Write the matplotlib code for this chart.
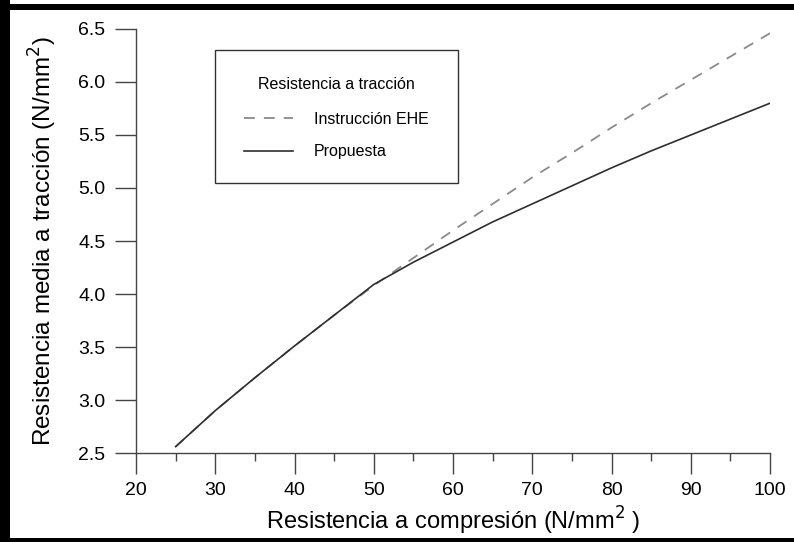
import matplotlib
matplotlib.use("Agg")
import matplotlib.pyplot as plt
from matplotlib.patches import Rectangle

plt.rcParams['font.family'] = ['Liberation Sans', 'DejaVu Sans']

# values
fck = [25, 30, 35, 40, 45, 50, 55, 60, 65, 70, 75, 80, 85, 90, 95, 100]
ehe = [2.56, 2.90, 3.21, 3.51, 3.80, 4.08, 4.34, 4.60, 4.85, 5.10, 5.33, 5.57, 5.80, 6.02, 6.24, 6.46]
propuesta = [2.56, 2.90, 3.21, 3.51, 3.80, 4.09, 4.30, 4.49, 4.68, 4.85, 5.02, 5.19, 5.35, 5.50, 5.65, 5.80]

x_ticks = [20, 30, 40, 50, 60, 70, 80, 90, 100]
y_ticks = [2.5, 3.0, 3.5, 4.0, 4.5, 5.0, 5.5, 6.0, 6.5]

fig = plt.figure(figsize=(7.94, 5.42), dpi=100)
ax = fig.add_axes([0.1713, 0.1642, 0.7985, 0.7823])

ax.plot(fck, ehe, color='#8a8a8a', linestyle=(0, (6, 5)), linewidth=1.3, label='Instrucción EHE')
ax.plot(fck, propuesta, color='#2e2e2e', linewidth=1.2, label='Propuesta')

ax.set_xlim(20, 100)
ax.set_ylim(2.5, 6.5)
ax.set_xticks(x_ticks)
ax.set_xticks(range(25, 100, 10), minor=True)
ax.set_yticks(y_ticks)
ax.set_yticklabels([f'{v:.1f}' for v in y_ticks])

for s in ['top', 'right']:
    ax.spines[s].set_visible(False)
for s in ['left', 'bottom']:
    ax.spines[s].set_color('#444444')
    ax.spines[s].set_linewidth(1.0)

ax.tick_params(axis='y', direction='out', length=15, width=1.0, color='#444444',
               labelsize=14, pad=7)
ax.tick_params(axis='x', which='major', direction='out', length=15, width=1.0,
               color='#444444', labelsize=14, pad=6)
ax.tick_params(axis='x', which='minor', direction='out', length=6, width=1.0, color='#444444')

ax.set_xlabel('Resistencia a compresión (N/mm$^2$ )', fontsize=17, labelpad=4)
ax.set_ylabel('Resistencia media a tracción (N/mm$^2$)', fontsize=17.5, labelpad=14)

# legend box
ax.add_patch(Rectangle((0.1246, 0.637), 0.3834, 0.313, transform=ax.transAxes,
                       fill=False, edgecolor='#333333', linewidth=1.0))
leg = ax.legend(title='Resistencia a tracción', frameon=False, loc='upper center',
                bbox_to_anchor=(0.316, 0.905), fontsize=11.5, title_fontsize=11.5,
                handlelength=3.1, handletextpad=1.3, labelspacing=1.1,
                borderpad=0)
leg._legend_box.sep = 14

# black frame on left, top and bottom
fig.add_artist(Rectangle((0.0, 0.0), 0.0126, 1.0, transform=fig.transFigure,
                         color='black', linewidth=0))
fig.add_artist(Rectangle((0.0, 0.9815), 1.0, 0.0111, transform=fig.transFigure,
                         color='black', linewidth=0))
fig.add_artist(Rectangle((0.0, 0.0), 1.0, 0.0074, transform=fig.transFigure,
                         color='black', linewidth=0))

fig.savefig('out.png', dpi=100)
